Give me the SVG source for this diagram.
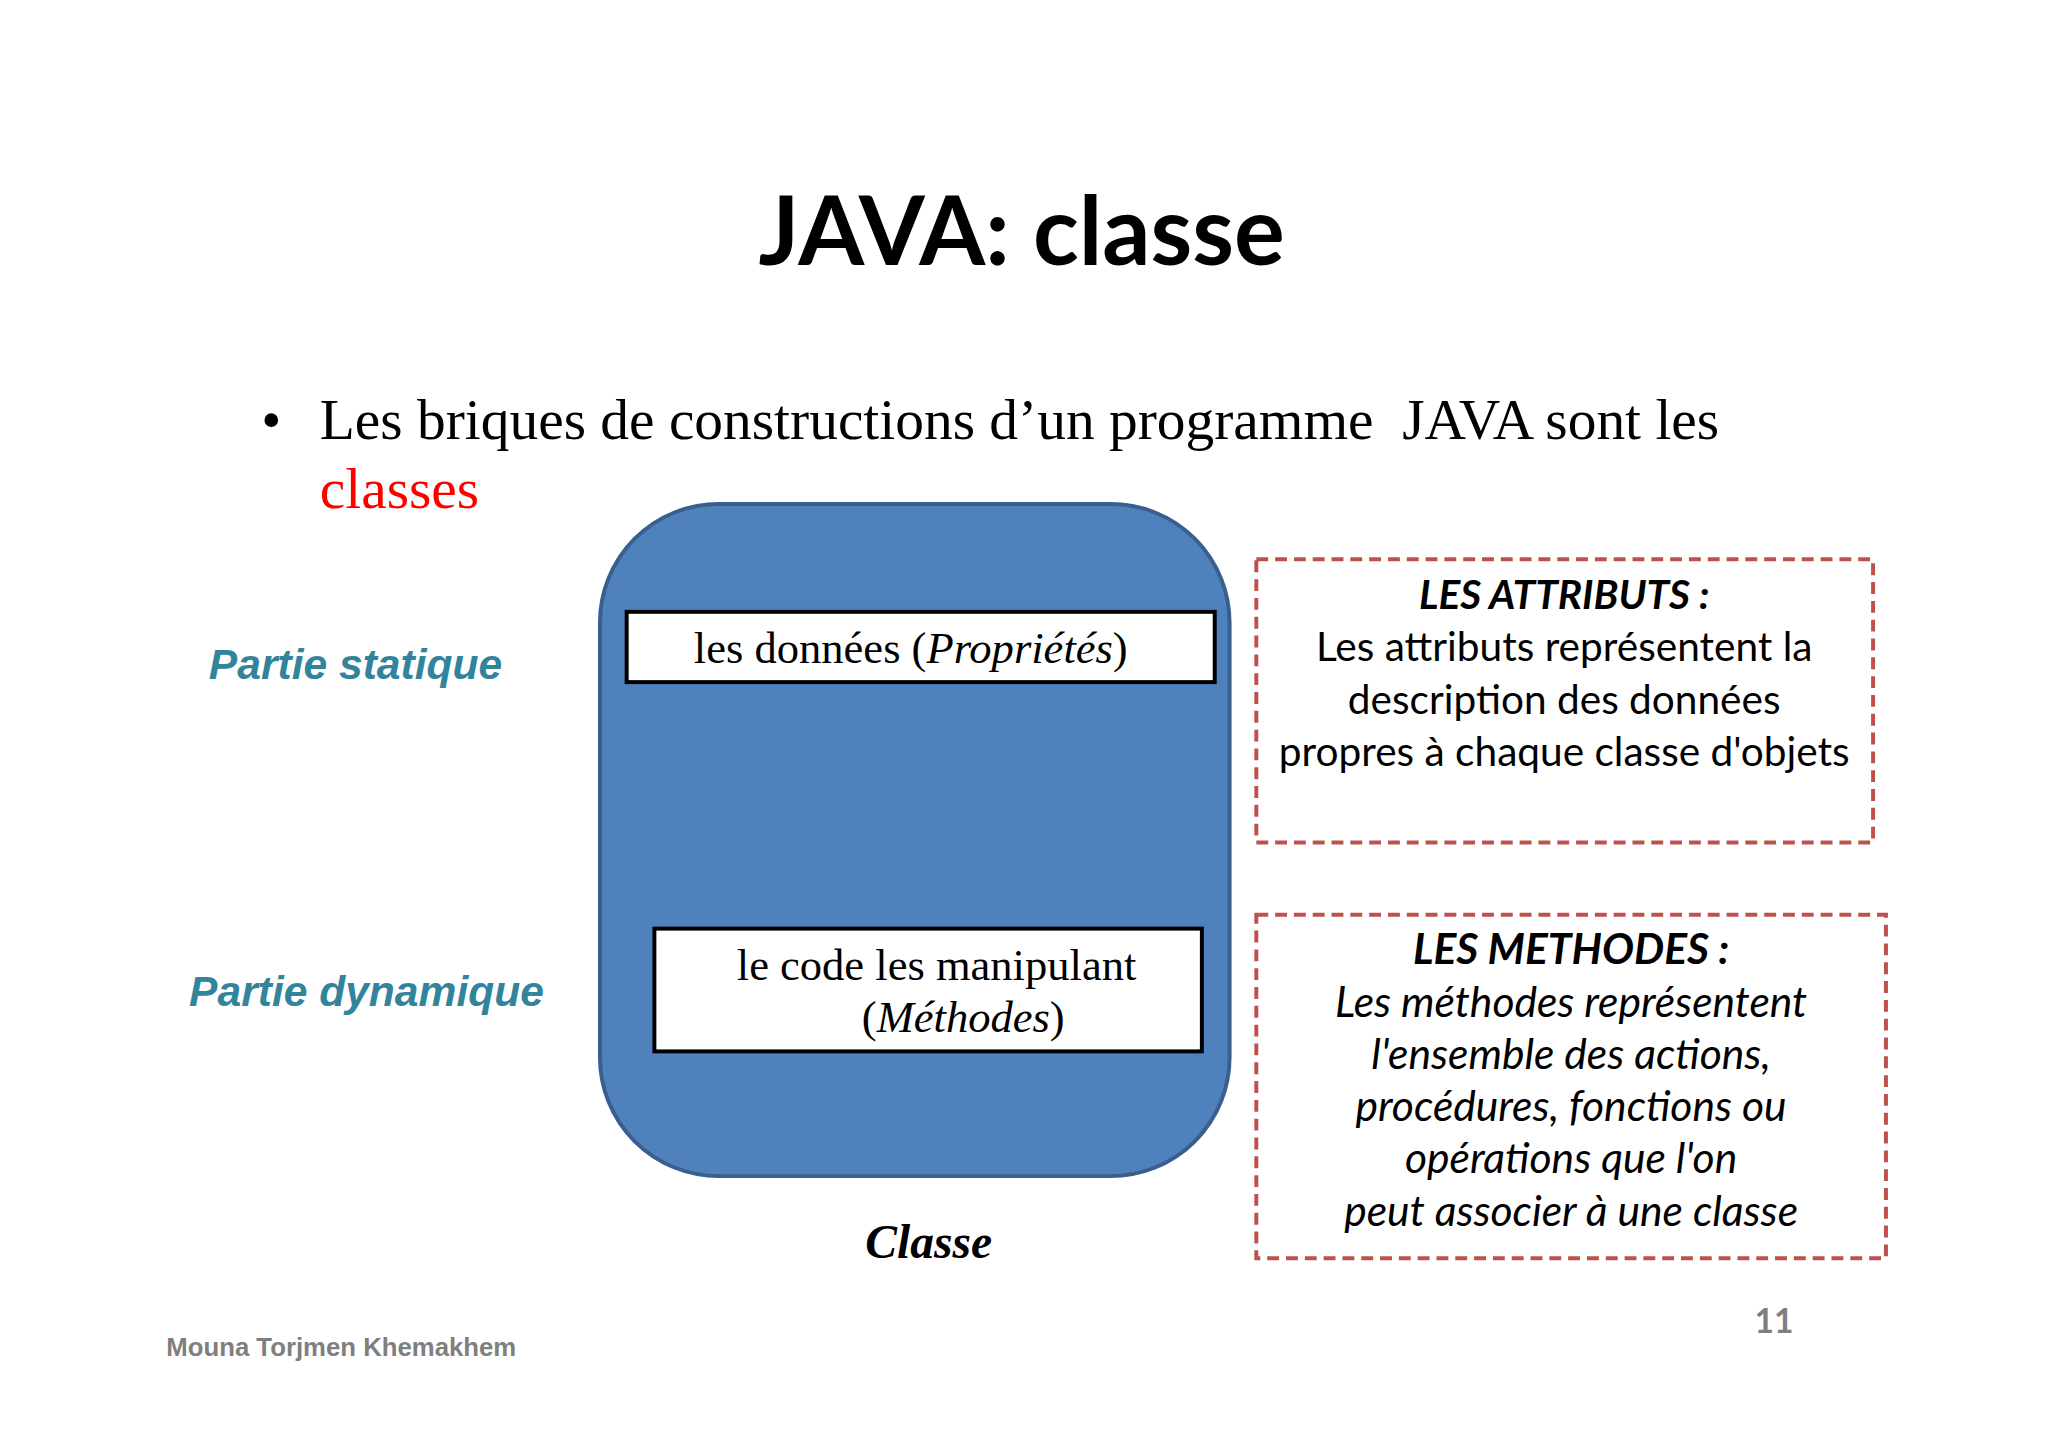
<svg xmlns="http://www.w3.org/2000/svg" width="2048" height="1447" viewBox="0 0 2048 1447">
<style>
.tm{font-family:"Liberation Serif",serif;fill:#000}
.cal{font-family:Lato,"Open Sans",sans-serif;fill:#000;font-size:41px;text-anchor:middle}
.m{font-size:43px}
.part{font-family:"Liberation Sans",Arial,sans-serif;font-size:43px;font-weight:bold;font-style:italic;fill:#31849b}
.dash{fill:none;stroke:#c0504d;stroke-width:4;stroke-dasharray:12 7}
.box{fill:#fff;stroke:#000;stroke-width:4}
</style>
<rect width="2048" height="1447" fill="#fff"/>
<g transform="scale(0.99)">
<text x="1032" y="268" text-anchor="middle" font-family="Lato,'Open Sans',sans-serif" font-weight="bold" font-size="96" fill="#000">JAVA: classe</text>
<text x="264" y="443" class="tm" font-size="58">•</text>
<text x="323" y="443" class="tm" font-size="58" xml:space="preserve">Les briques de constructions d’un programme  JAVA sont les</text>
<text x="323" y="513" class="tm" font-size="58" style="fill:#ff0000">classes</text>
<g id="classe">
<rect x="606" y="509" width="636" height="679" rx="120" fill="#4f81bd" stroke="#3a5f8f" stroke-width="4"/>
<text x="938" y="1271" class="tm" font-size="48" font-weight="bold" font-style="italic" text-anchor="middle">Classe</text>
</g>
<g id="donnees">
<rect x="633" y="618" width="594" height="71" class="box"/>
<text x="920" y="670" class="tm" font-size="45" text-anchor="middle">les données (<tspan font-style="italic">Propriétés</tspan>)</text>
</g>
<g id="code">
<rect x="661" y="938" width="553" height="124" class="box"/>
<text x="946" y="990" class="tm" font-size="45" text-anchor="middle">le code les manipulant</text>
<text x="973" y="1042" class="tm" font-size="45" text-anchor="middle">(<tspan font-style="italic">Méthodes</tspan>)</text>
</g>
<text id="statique" x="211" y="686" class="part">Partie statique</text>
<text id="dynamique" x="191" y="1016" class="part">Partie dynamique</text>
<g id="attributs">
<rect x="1269" y="565" width="623" height="286" class="dash"/>
<text x="1580" y="615" class="cal" font-weight="bold" font-style="italic">LES ATTRIBUTS :</text>
<text x="1580" y="668" class="cal">Les attributs représentent la</text>
<text x="1580" y="721" class="cal">description des données</text>
<text x="1580" y="774" class="cal">propres à chaque classe d'objets</text>
</g>
<g id="methodes" font-style="italic">
<rect x="1269" y="924" width="636" height="347" class="dash"/>
<text x="1587" y="974" class="cal m" font-weight="bold">LES METHODES :</text>
<text x="1587" y="1027" class="cal m">Les méthodes représentent</text>
<text x="1587" y="1080" class="cal m">l'ensemble des actions,</text>
<text x="1587" y="1132" class="cal m">procédures, fonctions ou</text>
<text x="1587" y="1185" class="cal m">opérations que l'on</text>
<text x="1587" y="1238" class="cal m">peut associer à une classe</text>
</g>
<g id="connectors"/>
<text x="168" y="1370" font-family="'Liberation Sans',Arial,sans-serif" font-weight="bold" font-size="26" fill="#7f7f7f">Mouna Torjmen Khemakhem</text>
<text x="1792" y="1346" text-anchor="middle" font-family="Lato,sans-serif" font-weight="bold" font-size="34" fill="#7f7f7f">11</text>
</g>
</svg>
